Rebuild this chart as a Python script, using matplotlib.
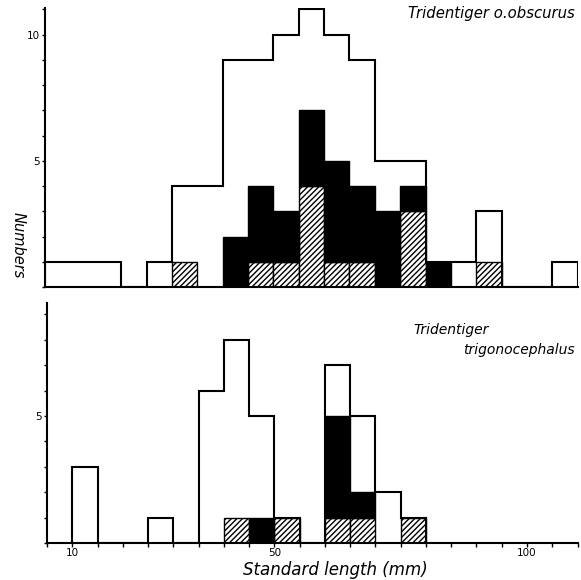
import numpy as np
from matplotlib import pyplot as plt
from matplotlib.ticker import MultipleLocator, FixedLocator

plt.rcParams['font.family'] = ['DejaVu Sans']
plt.rcParams['hatch.linewidth'] = 1.0

# Tridentiger o. obscurus (upper panel)
top_total_edges = [5, 20, 25, 30, 40, 50, 55, 60, 65, 70, 80, 85, 90, 95, 105, 110]
top_total_counts = [1, 0, 1, 4, 9, 10, 11, 10, 9, 5, 1, 1, 3, 0, 1]
top_bin_left = [30, 40, 45, 50, 55, 60, 65, 70, 75, 80, 90]
top_hatched = [1, 0, 1, 1, 4, 1, 1, 0, 3, 0, 1]
top_black = [0, 2, 3, 2, 3, 4, 3, 3, 1, 1, 0]

# Tridentiger trigonocephalus (lower panel)
bot_total_edges = [10, 15, 25, 30, 35, 40, 45, 50, 55, 60, 65, 70, 75, 80]
bot_total_counts = [3, 0, 1, 0, 6, 8, 5, 1, 0, 7, 5, 2, 1]
bot_bin_left = [40, 45, 50, 60, 65, 75]
bot_hatched = [1, 0, 1, 1, 1, 1]
bot_black = [0, 1, 0, 4, 1, 0]

x_ticks = list(range(5, 111, 5))
x_labels = {10: '10', 50: '50', 100: '100'}
BIN = 5
LW = 1.5


def DrawPanel(ax, edges, counts, left, hatched, black, ymax):
    hb = [(l, h) for l, h in zip(left, hatched) if h > 0]
    ax.bar([l for l, h in hb], [h for l, h in hb], width=BIN, align='edge',
           color='white', edgecolor='black', hatch='//////', linewidth=1.0, zorder=2)
    bb = [(l, b, h) for l, b, h in zip(left, black, hatched) if b > 0]
    ax.bar([l for l, b, h in bb], [b for l, b, h in bb], width=BIN, bottom=[h for l, b, h in bb],
           align='edge', color='black', edgecolor='black', linewidth=1.0, zorder=2)
    ax.stairs(counts, edges, baseline=0, fill=False, color='black', linewidth=LW, zorder=3)

    ax.spines['top'].set_visible(False)
    ax.spines['right'].set_visible(False)
    for s in ('left', 'bottom'):
        ax.spines[s].set_linewidth(LW)
    ax.set_xlim(5, 110)
    ax.set_ylim(0, ymax)
    ax.yaxis.set_major_locator(FixedLocator([v for v in (5, 10) if v < ymax]))
    ax.yaxis.set_minor_locator(MultipleLocator(1))
    ax.tick_params(axis='y', which='both', length=2.5, width=1, labelsize=7.5, pad=1)


fig = plt.figure(figsize=(5.81, 5.80), dpi=100)
ax1 = fig.add_axes([0.0775, 0.505, 0.917, 0.481])
ax2 = fig.add_axes([0.0810, 0.0638, 0.913, 0.414])

DrawPanel(ax1, top_total_edges, top_total_counts, top_bin_left, top_hatched, top_black, 11.05)
ax1.set_xticks([])

DrawPanel(ax2, bot_total_edges, bot_total_counts, bot_bin_left, bot_hatched, bot_black, 9.45)
ax2.set_xticks(x_ticks)
ax2.set_xticklabels([x_labels.get(t, '') for t in x_ticks])
ax2.tick_params(axis='x', length=3, width=1, labelsize=7.5, pad=0.5)

ax1.text(0.995, 0.98, 'Tridentiger o.obscurus', transform=ax1.transAxes,
         ha='right', va='center', style='italic', fontsize=10.7)
ax2.text(0.69, 0.8875, 'Tridentiger', transform=ax2.transAxes,
         ha='left', va='center', style='italic', fontsize=10)
ax2.text(0.995, 0.804, 'trigonocephalus', transform=ax2.transAxes,
         ha='right', va='center', style='italic', fontsize=10)

fig.text(0.031, 0.578, 'Numbers', rotation=270, ha='center', va='center',
         style='italic', fontsize=10.5)
fig.text(0.578, 0.017, 'Standard length (mm)', ha='center', va='center',
         style='italic', fontsize=12)

fig.savefig('out.png', dpi=100)
